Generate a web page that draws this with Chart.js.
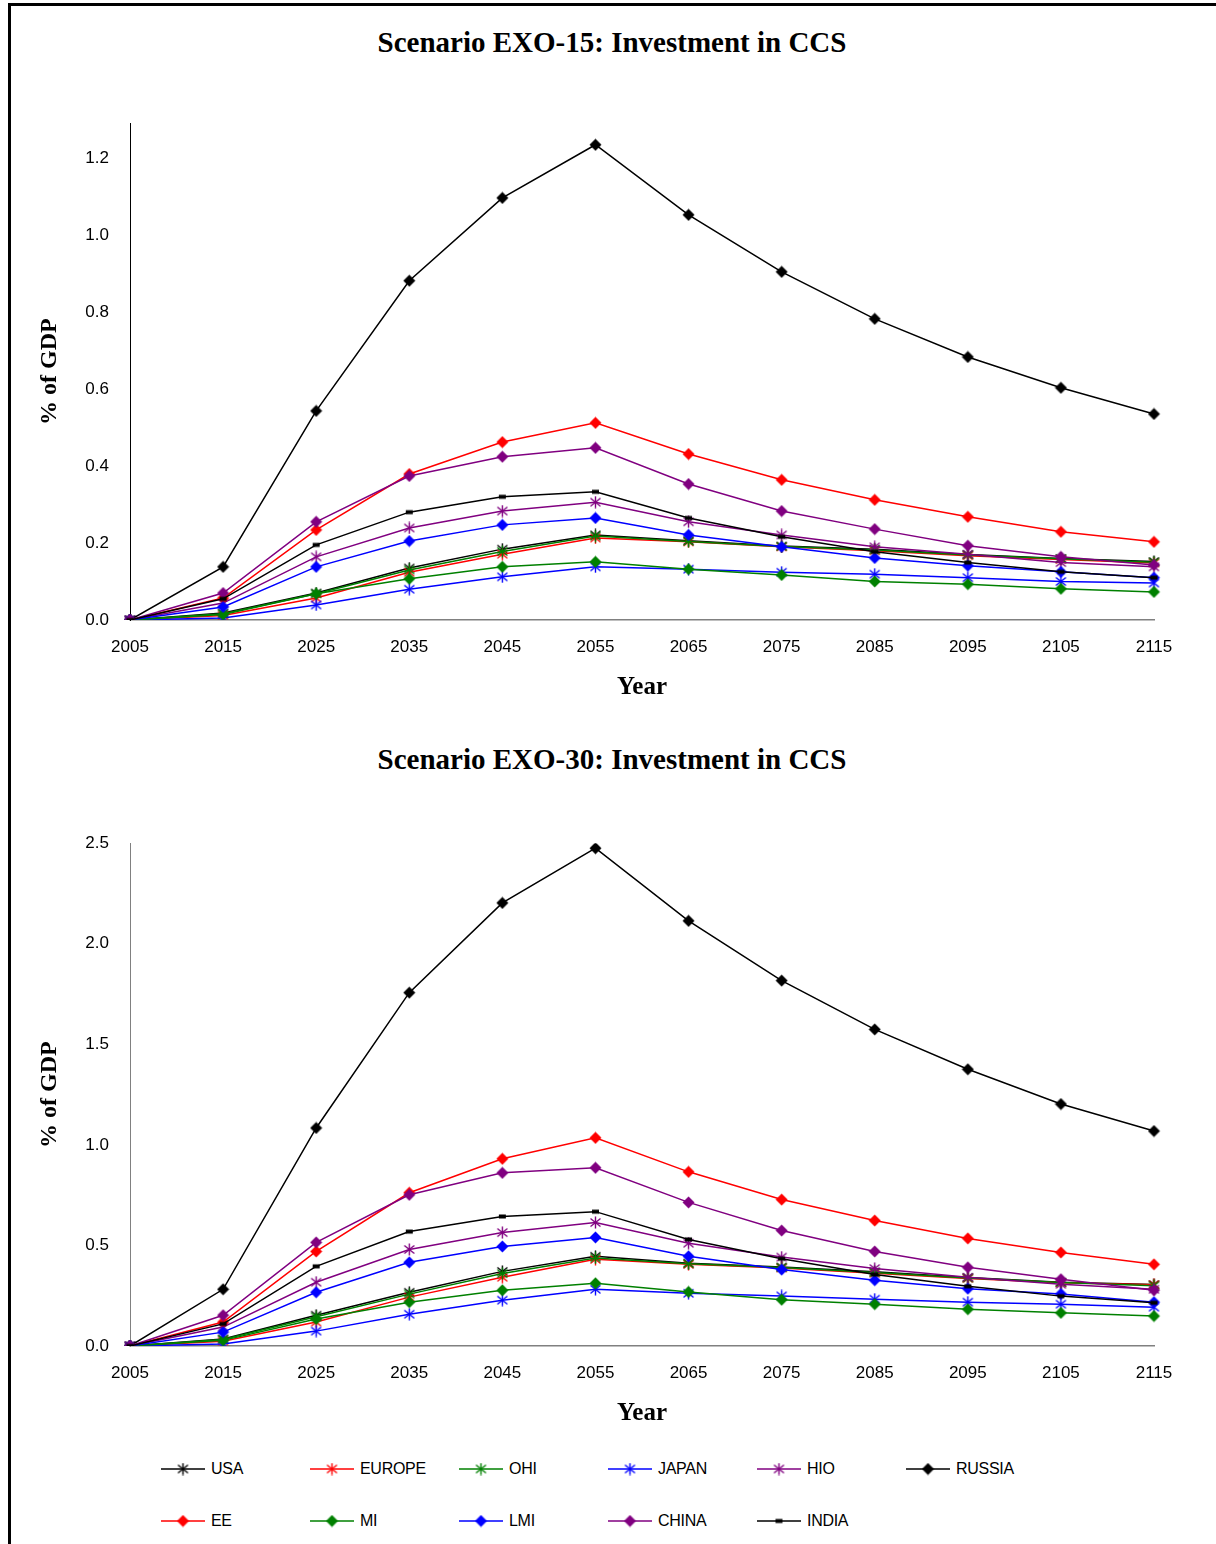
<!DOCTYPE html>
<html>
<head>
<meta charset="utf-8">
<script src="https://cdn.jsdelivr.net/npm/chart.js@4/dist/chart.umd.min.js"></script>
<style>
  html, body { margin: 0; padding: 0; background: #fff; }
  body { width: 1216px; height: 1544px; position: relative; overflow: hidden; }
  .frame { position: absolute; left: 8px; top: 3px; width: 1300px; height: 1600px;
           border-left: 3px solid #000; border-top: 3px solid #000; box-sizing: border-box; }
  .title { position: absolute; left: 0; width: 1224px; text-align: center;
           font: bold 29px "Liberation Serif", "Times New Roman", serif; line-height: 34px; color: #000; }
  canvas.chart { position: absolute; left: 10px; }
  .legend-item { position: absolute; height: 20px; display: flex; align-items: center;
                 font: 16px "Liberation Sans", Arial, sans-serif; color: #000; letter-spacing: -0.3px; }
  .legend-item canvas { margin-right: 6px; }
</style>
</head>
<body>
<div class="frame"></div>
<div class="title" style="top:25px">Scenario EXO-15: Investment in CCS</div>
<canvas id="c15" class="chart" width="1206" height="610" style="top:100px"></canvas>
<div class="title" style="top:742px">Scenario EXO-30: Investment in CCS</div>
<canvas id="c30" class="chart" width="1206" height="616" style="top:820px"></canvas>
<div id="legend"></div>

<script>
const YEARS = ['2005','2015','2025','2035','2045','2055','2065','2075','2085','2095','2105','2115']
const TICKS_15 = [0, 0.2, 0.4, 0.6, 0.8, 1.0, 1.2]
const TICKS_30 = [0, 0.5, 1.0, 1.5, 2.0, 2.5]
const REGIONS = ['USA','EUROPE','OHI','JAPAN','HIO','RUSSIA','EE','MI','LMI','CHINA','INDIA']

// Scenario EXO-15, % of GDP
const USA_15    = [0, 0.018, 0.070, 0.135, 0.184, 0.221, 0.206, 0.192, 0.184, 0.170, 0.160, 0.152]
const EUROPE_15 = [0, 0.012, 0.057, 0.124, 0.171, 0.213, 0.203, 0.190, 0.180, 0.167, 0.157, 0.148]
const OHI_15    = [0, 0.016, 0.068, 0.130, 0.178, 0.218, 0.204, 0.191, 0.182, 0.169, 0.159, 0.150]
const JAPAN_15  = [0, 0.005, 0.039, 0.080, 0.112, 0.138, 0.132, 0.124, 0.119, 0.110, 0.100, 0.096]
const HIO_15    = [0, 0.044, 0.164, 0.239, 0.283, 0.306, 0.255, 0.221, 0.190, 0.171, 0.149, 0.138]
const RUSSIA_15 = [0, 0.138, 0.543, 0.881, 1.096, 1.234, 1.052, 0.904, 0.782, 0.683, 0.603, 0.535]
const EE_15     = [0, 0.057, 0.234, 0.379, 0.462, 0.512, 0.431, 0.364, 0.312, 0.268, 0.229, 0.203]
const MI_15     = [0, 0.014, 0.068, 0.107, 0.138, 0.151, 0.132, 0.117, 0.100, 0.093, 0.081, 0.073]
const LMI_15    = [0, 0.034, 0.138, 0.205, 0.247, 0.265, 0.221, 0.190, 0.161, 0.141, 0.125, 0.110]
const CHINA_15  = [0, 0.070, 0.255, 0.374, 0.424, 0.447, 0.353, 0.283, 0.236, 0.193, 0.164, 0.143]
const INDIA_15  = [0, 0.055, 0.195, 0.280, 0.320, 0.333, 0.265, 0.216, 0.177, 0.149, 0.125, 0.110]

// Scenario EXO-30, % of GDP
const USA_30    = [0, 0.035, 0.153, 0.267, 0.371, 0.446, 0.412, 0.393, 0.369, 0.340, 0.317, 0.306]
const EUROPE_30 = [0, 0.024, 0.119, 0.243, 0.342, 0.431, 0.406, 0.388, 0.362, 0.336, 0.314, 0.304]
const OHI_30    = [0, 0.032, 0.145, 0.258, 0.360, 0.438, 0.409, 0.390, 0.365, 0.338, 0.316, 0.300]
const JAPAN_30  = [0, 0.010, 0.074, 0.158, 0.228, 0.282, 0.262, 0.249, 0.233, 0.218, 0.208, 0.193]
const HIO_30    = [0, 0.094, 0.317, 0.480, 0.564, 0.614, 0.511, 0.442, 0.385, 0.342, 0.307, 0.282]
const RUSSIA_30 = [0, 0.282, 1.084, 1.757, 2.203, 2.475, 2.114, 1.817, 1.574, 1.376, 1.203, 1.069]
const EE_30     = [0, 0.119, 0.470, 0.762, 0.931, 1.035, 0.866, 0.728, 0.624, 0.535, 0.465, 0.406]
const MI_30     = [0, 0.028, 0.134, 0.218, 0.277, 0.312, 0.269, 0.230, 0.208, 0.183, 0.165, 0.149]
const LMI_30    = [0, 0.069, 0.267, 0.416, 0.495, 0.540, 0.446, 0.380, 0.327, 0.285, 0.259, 0.218]
const CHINA_30  = [0, 0.153, 0.515, 0.752, 0.861, 0.886, 0.714, 0.574, 0.470, 0.391, 0.332, 0.277]
const INDIA_30  = [0, 0.110, 0.396, 0.569, 0.644, 0.668, 0.530, 0.434, 0.355, 0.297, 0.248, 0.215]

const SERIES_15 = [USA_15, EUROPE_15, OHI_15, JAPAN_15, HIO_15, RUSSIA_15, EE_15, MI_15, LMI_15, CHINA_15, INDIA_15]
const SERIES_30 = [USA_30, EUROPE_30, OHI_30, JAPAN_30, HIO_30, RUSSIA_30, EE_30, MI_30, LMI_30, CHINA_30, INDIA_30]

// styling per region (Excel-like colours + marker kinds)
const STYLE = {
  USA:    { color: '#000000', marker: 'star' },
  EUROPE: { color: '#FF0000', marker: 'star' },
  OHI:    { color: '#008000', marker: 'star' },
  JAPAN:  { color: '#0000FF', marker: 'star' },
  HIO:    { color: '#800080', marker: 'star' },
  RUSSIA: { color: '#000000', marker: 'diamond' },
  EE:     { color: '#FF0000', marker: 'diamond' },
  MI:     { color: '#008000', marker: 'diamond' },
  LMI:    { color: '#0000FF', marker: 'diamond' },
  CHINA:  { color: '#800080', marker: 'diamond' },
  INDIA:  { color: '#000000', marker: 'dash' },
}

// small canvases used as point styles (asterisk, diamond, dash)
function makeMarker(kind, color) {
  const c = document.createElement('canvas')
  c.width = 13; c.height = 13
  const g = c.getContext('2d')
  g.fillStyle = color
  g.strokeStyle = color
  if (kind === 'diamond') {
    g.beginPath()
    g.moveTo(6.5, 0.5); g.lineTo(12.5, 6.5); g.lineTo(6.5, 12.5); g.lineTo(0.5, 6.5)
    g.closePath(); g.fill()
  } else if (kind === 'star') {
    g.lineWidth = 1.4
    g.beginPath()
    g.moveTo(6.5, 0.5); g.lineTo(6.5, 12.5)
    g.moveTo(1.5, 2.5); g.lineTo(11.5, 10.5)
    g.moveTo(11.5, 2.5); g.lineTo(1.5, 10.5)
    g.stroke()
  } else {
    g.fillRect(3, 4.5, 7, 4)
  }
  return c
}

const MARKER_IMG = {}
REGIONS.forEach(r => { MARKER_IMG[r] = makeMarker(STYLE[r].marker, STYLE[r].color) })

function datasets(series) {
  return REGIONS.map((r, i) => ({
    label: r,
    data: series[i],
    borderColor: STYLE[r].color,
    backgroundColor: STYLE[r].color,
    borderWidth: 1.5,
    pointStyle: MARKER_IMG[r],
    pointRadius: 5,
    pointHoverRadius: 5,
    tension: 0,
    order: -i,          // later series drawn on top, like Excel
  }))
}

function makeChart(id, series, max, ticks, yBorder) {
  return new Chart(document.getElementById(id), {
    type: 'line',
    data: { labels: YEARS, datasets: datasets(series) },
    options: {
      responsive: false,
      animation: false,
      layout: { padding: { left: 25, right: 62, top: 22, bottom: 0 } },
      plugins: { legend: { display: false }, title: { display: false }, tooltip: { enabled: true } },
      scales: {
        x: {
          type: 'category',
          offset: false,
          grid: { display: false },
          border: { display: true, color: '#808080', width: 1.5 },
          ticks: { color: '#000', padding: 9, maxRotation: 0, autoSkip: false,
                   font: { family: '"Liberation Sans", Arial, sans-serif', size: 17 } },
          title: { display: true, text: 'Year', color: '#000', padding: { top: 0, bottom: 7 },
                   font: { family: '"Liberation Serif", "Times New Roman", serif', size: 25, weight: 'bold' } },
          afterFit: s => { s.height = 90 },
        },
        y: {
          min: 0,
          max,
          grid: { display: false },
          border: { display: true, color: yBorder, width: 1 },
          afterBuildTicks: s => { s.ticks = ticks.map(v => ({ value: v })) },
          ticks: { color: '#000', padding: 13, callback: v => v.toFixed(1),
                   font: { family: '"Liberation Sans", Arial, sans-serif', size: 17 } },
          title: { display: true, text: '% of GDP', color: '#000', padding: 0,
                   font: { family: '"Liberation Serif", "Times New Roman", serif', size: 24, weight: 'bold' } },
          afterFit: s => { s.width = 95 },
        }
      }
    }
  })
}

makeChart('c15', SERIES_15, 1.29, TICKS_15, '#000000')
makeChart('c30', SERIES_30, 2.5, TICKS_30, '#808080')

// shared legend, 6 columns x 2 rows under the second chart
const legend = document.getElementById('legend')
REGIONS.forEach((r, i) => {
  const col = i % 6, row = Math.floor(i / 6)
  const item = document.createElement('div')
  item.className = 'legend-item'
  item.style.left = (161 + col * 149) + 'px'
  item.style.top = (1459 + row * 52) + 'px'
  const sw = document.createElement('canvas')
  sw.width = 44; sw.height = 16
  const g = sw.getContext('2d')
  g.strokeStyle = STYLE[r].color
  g.lineWidth = 1.5
  g.beginPath(); g.moveTo(0, 8); g.lineTo(44, 8); g.stroke()
  g.drawImage(MARKER_IMG[r], 22 - 6.5, 8 - 6.5)
  item.appendChild(sw)
  const t = document.createElement('span')
  t.textContent = r
  item.appendChild(t)
  legend.appendChild(item)
})
</script>
</body>
</html>
